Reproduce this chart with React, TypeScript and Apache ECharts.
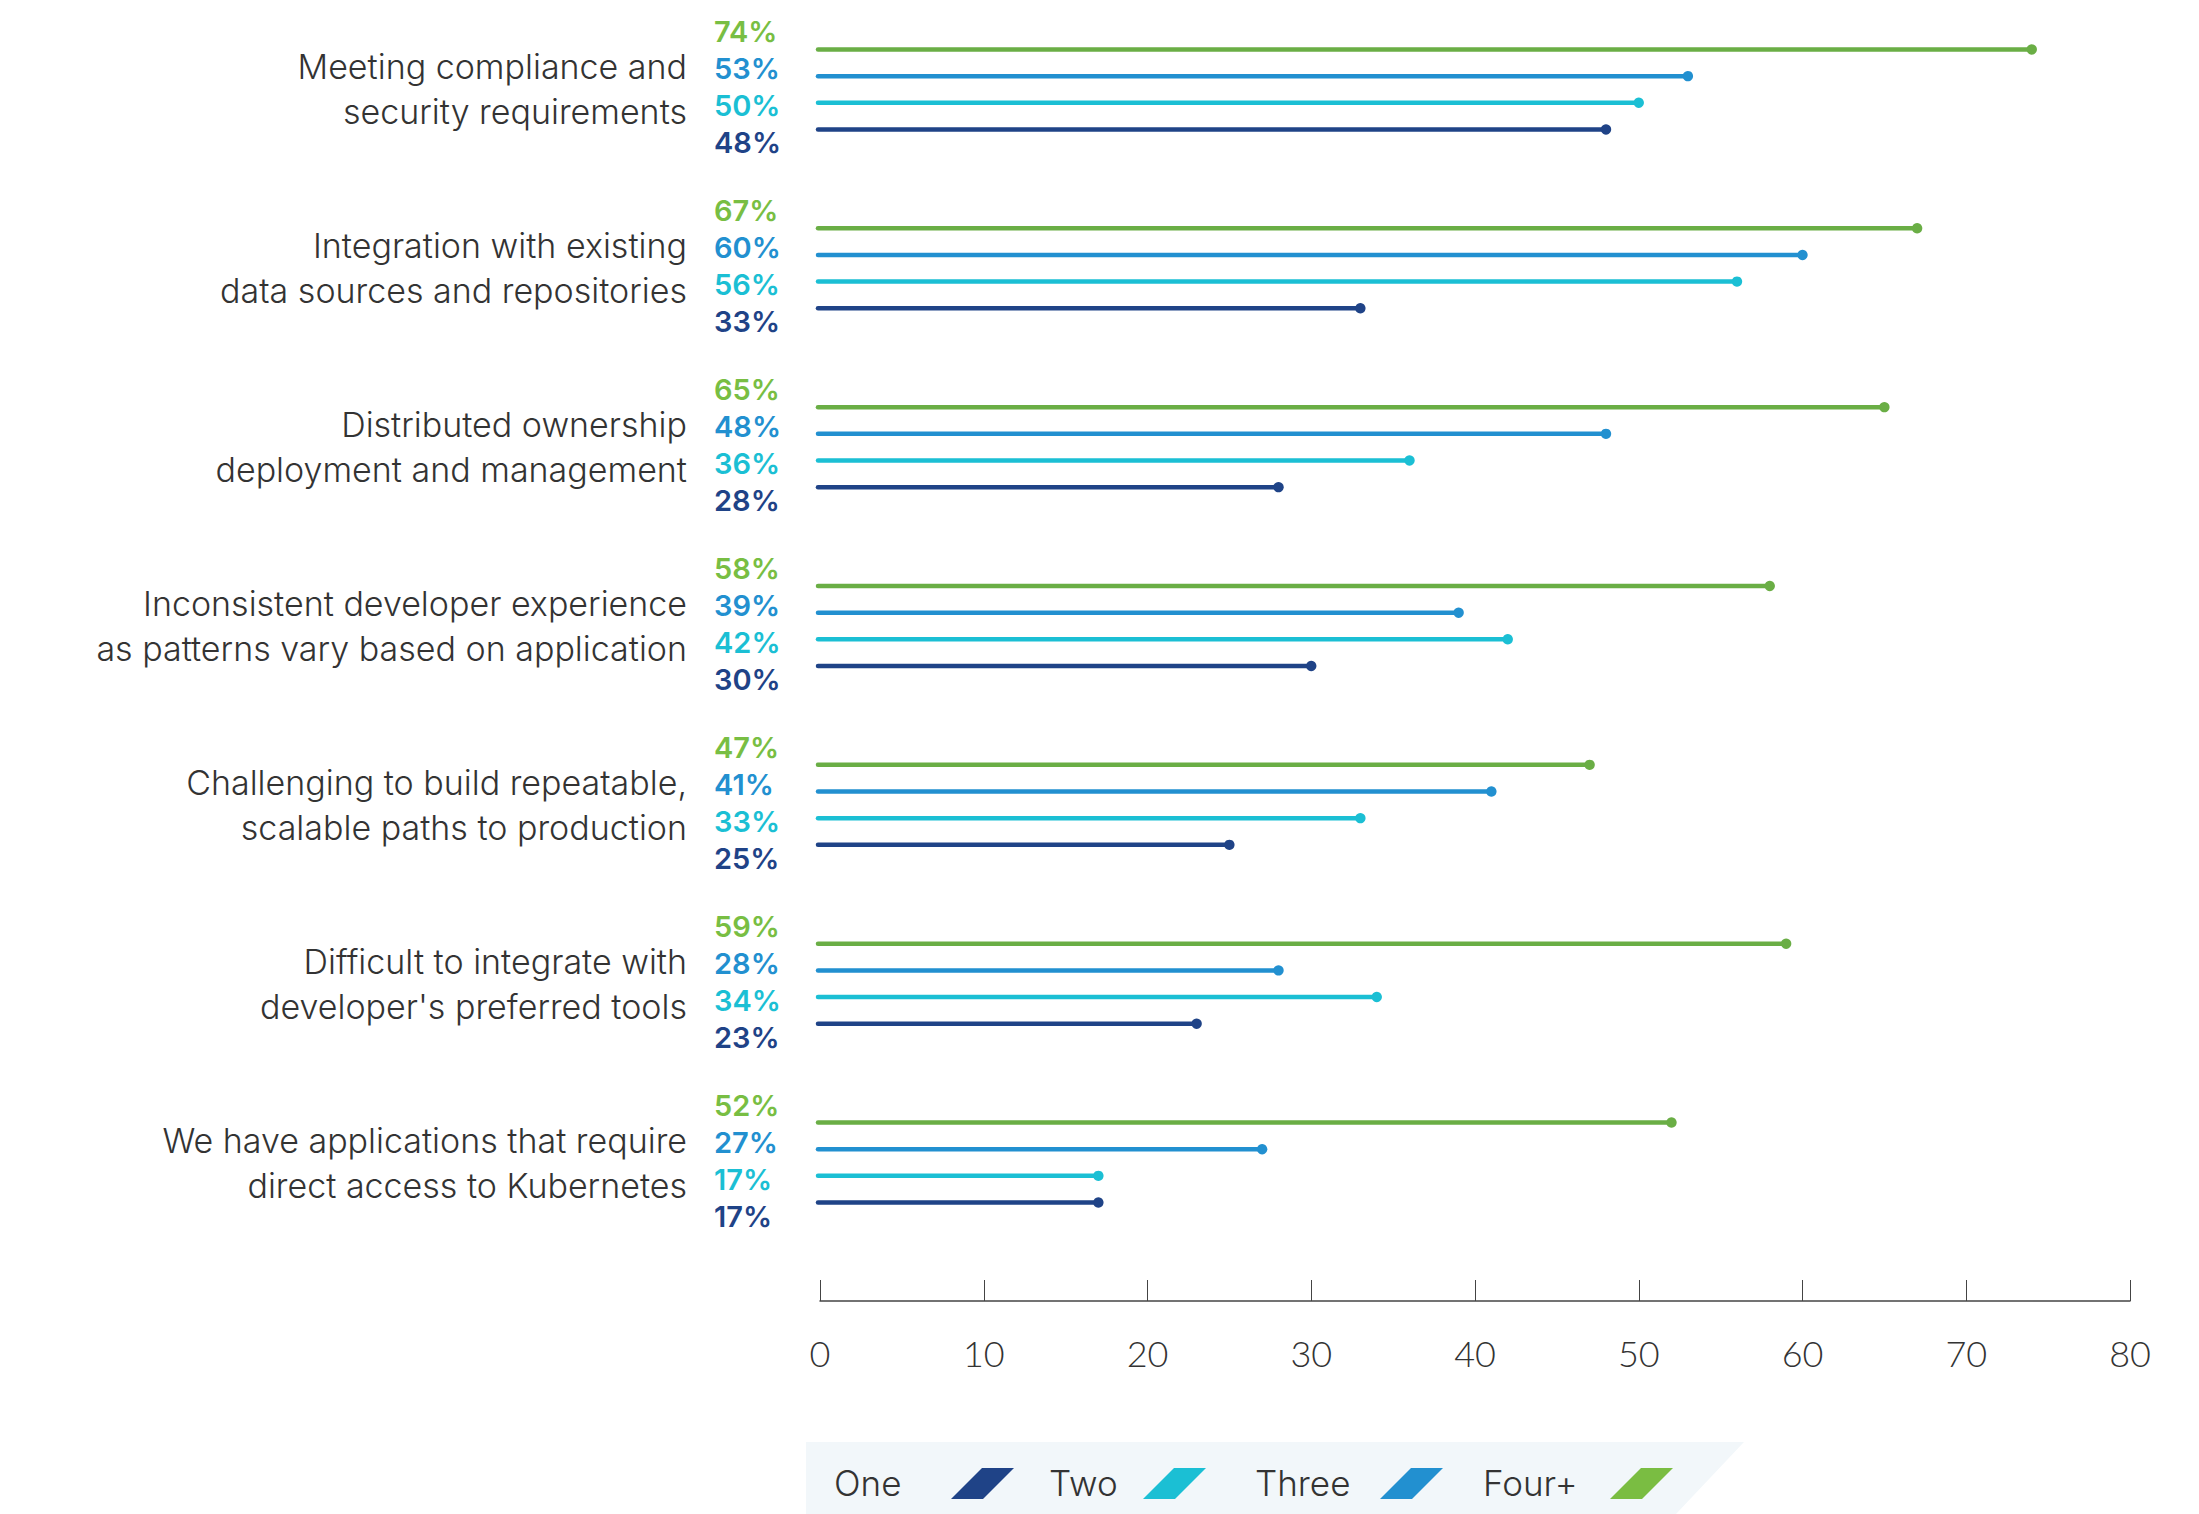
import React, { useEffect, useRef } from "react";
import * as echarts from "echarts";

const categories = [
  "Meeting compliance and\nsecurity requirements",
  "Integration with existing\ndata sources and repositories",
  "Distributed ownership\ndeployment and management",
  "Inconsistent developer experience\nas patterns vary based on application",
  "Challenging to build repeatable,\nscalable paths to production",
  "Difficult to integrate with\ndeveloper's preferred tools",
  "We have applications that require\ndirect access to Kubernetes",
];

const seriesNames = ["One", "Two", "Three", "Four+"];
const oneValues = [48, 33, 28, 30, 25, 23, 17];
const twoValues = [50, 56, 36, 42, 33, 34, 17];
const threeValues = [53, 60, 48, 39, 41, 28, 27];
const fourPlusValues = [74, 67, 65, 58, 47, 59, 52];
const xTickMax = 80;
const xTickStep = 10;

const lineColors = ["#1f4387", "#1bbfd4", "#2290d0", "#6aae45"];
const labelColors = ["#1f4387", "#1bbfd4", "#2290d0", "#78be43"];
const legendColors = ["#1f4387", "#1bbfd4", "#2290d0", "#7abd42"];
// vertical offsets (px) within a category band: line, label
const lineOffsets = [40, 13.3, -13.3, -40];
const labelOffsets = [53.5, 16.5, -20.5, -57.5];

const FONT_TEXT = "Inter, 'Open Sans', sans-serif";
const FONT_PCT = "Inter, 'Open Sans', sans-serif";
const FONT_NUM = "Lato, 'Open Sans', sans-serif";

export default function App() {
  const ref = useRef<HTMLDivElement>(null);
  useEffect(() => {
    if (!ref.current) return;
    const chart = echarts.init(ref.current, undefined, { renderer: "svg" });
    const allValues = [oneValues, twoValues, threeValues, fourPlusValues];

    const series = allValues.map((vals, s) => ({
      type: "custom",
      name: seriesNames[s],
      clip: false,
      encode: { x: 0, y: 1 },
      data: vals.map((v, i) => [v, i]),
      renderItem: (params: any, api: any) => {
        const val = api.value(0);
        const cat = api.value(1);
        const p0 = api.coord([0, cat]);
        const p1 = api.coord([val, cat]);
        const y = p0[1] + lineOffsets[s];
        return {
          type: "group",
          children: [
            {
              type: "line",
              shape: { x1: p0[0] - 2, y1: y, x2: p1[0], y2: y },
              style: { stroke: lineColors[s], lineWidth: 4.5, lineCap: "round" },
            },
            {
              type: "circle",
              shape: { cx: p1[0], cy: y, r: 5.2 },
              style: { fill: lineColors[s] },
            },
            {
              type: "text",
              x: p0[0] - 106,
              y: p0[1] + labelOffsets[s],
              style: {
                text: val + "%",
                fill: labelColors[s],
                fontSize: 29,
                lineHeight: 30,
                fontWeight: 600,
                fontFamily: FONT_PCT,
                align: "left",
                verticalAlign: "middle",
              },
            },
          ],
        };
      },
    }));

    const legendX = [834, 1049, 1255, 1483];
    const swatchX = [951, 1143, 1380, 1610];
    const legendGraphics: any[] = [
      {
        type: "polygon",
        shape: {
          points: [
            [806, 1442],
            [1744, 1442],
            [1676, 1514],
            [806, 1514],
          ],
        },
        style: { fill: "#f2f7fa" },
        silent: true,
      },
    ];
    seriesNames.forEach((name, i) => {
      legendGraphics.push({
        type: "text",
        x: legendX[i],
        y: 1483,
        style: {
          text: name,
          fill: "#333333",
          fontSize: 35,
          fontWeight: 300,
          fontFamily: FONT_TEXT,
          align: "left",
          verticalAlign: "middle",
        },
      });
      const sx = swatchX[i];
      legendGraphics.push({
        type: "polygon",
        shape: {
          points: [
            [sx + 31, 1468],
            [sx + 63, 1468],
            [sx + 32, 1499],
            [sx, 1499],
          ],
        },
        style: { fill: legendColors[i] },
      });
    });

    chart.setOption({
      animation: false,
      backgroundColor: "#ffffff",
      grid: { left: 820, width: 1310, top: -4.5, height: 1256.5, containLabel: false },
      xAxis: {
        type: "value",
        min: 0,
        max: xTickMax,
        interval: xTickStep,
        position: "bottom",
        offset: 49,
        splitLine: { show: false },
        axisLine: { show: true, lineStyle: { color: "#444444", width: 1.5 } },
        axisTick: { show: true, inside: true, length: 21, lineStyle: { color: "#444444", width: 1 } },
        axisLabel: {
          color: "#333333",
          fontSize: 36,
          fontWeight: 300,
          fontFamily: FONT_NUM,
          margin: 34,
        },
      },
      yAxis: {
        type: "category",
        inverse: true,
        data: categories,
        axisLine: { show: false },
        axisTick: { show: false },
        splitLine: { show: false },
        axisLabel: {
          color: "#333333",
          fontSize: 34,
          fontWeight: 300,
          fontFamily: FONT_TEXT,
          lineHeight: 45,
          align: "right",
          margin: 133,
        },
      },
      series,
      graphic: legendGraphics,
    });
    return () => chart.dispose();
  }, []);
  return (
    <div
      ref={ref}
      style={{ position: "absolute", left: 0, top: 0, width: 2199, height: 1514 }}
    />
  );
}
